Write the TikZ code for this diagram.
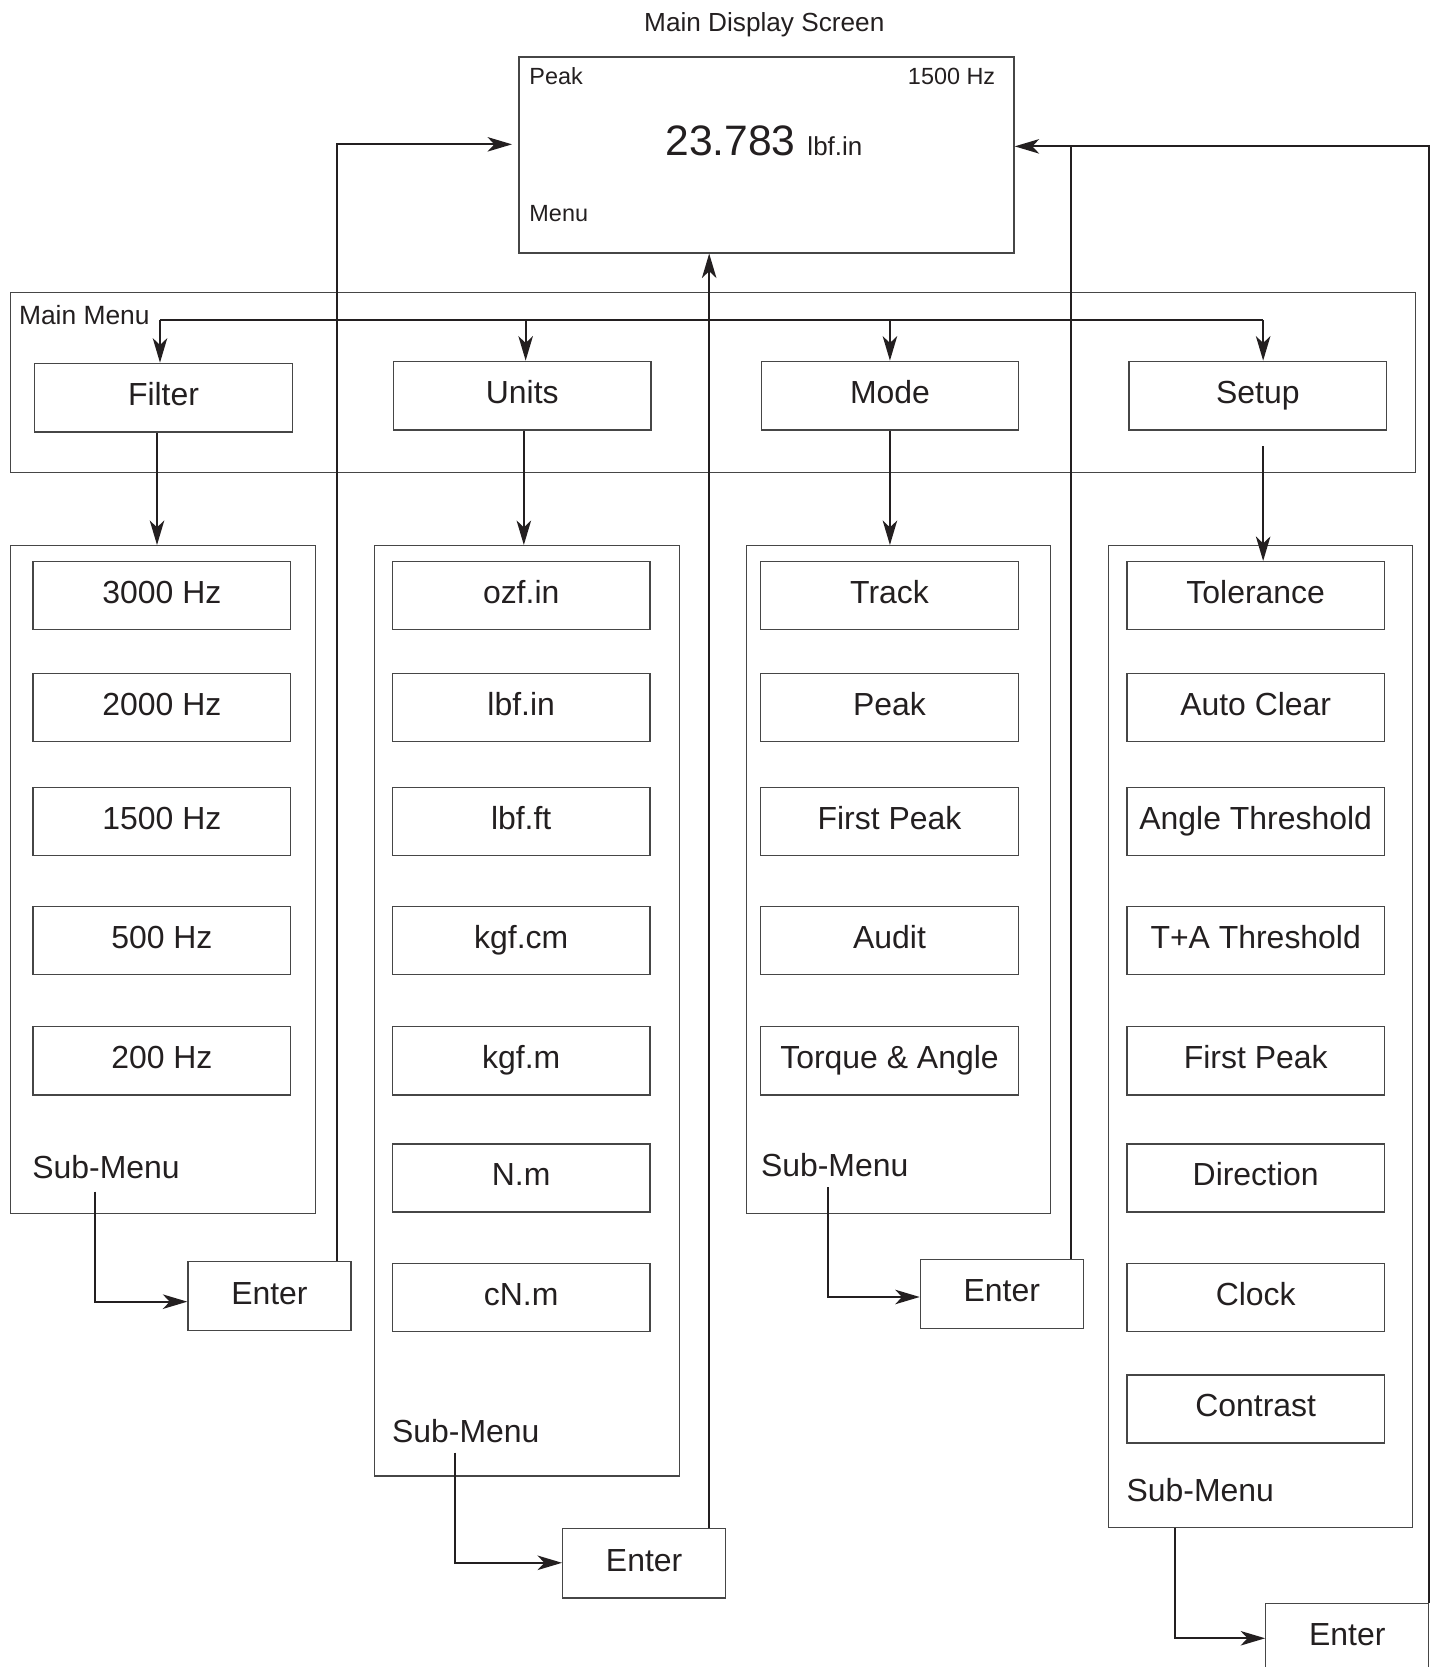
\documentclass[tikz,border=0pt]{standalone}
\usepackage{fontspec}
\setmainfont{Liberation Sans}
\usetikzlibrary{arrows.meta}
\definecolor{ink}{RGB}{35,31,32}
\definecolor{boxc}{RGB}{70,70,70}
\begin{document}
\begin{tikzpicture}[x=0.5pt,y=-0.5pt,
  frame/.style={draw=boxc, line width=0.6pt, inner sep=0pt, anchor=north west},
  item/.style={draw=boxc, line width=0.6pt, minimum width=121pt, minimum height=32pt, inner sep=0pt,
    text height=10.5pt, text depth=3pt, font=\fontsize{15}{18}\selectfont, text=ink, anchor=north west},
  topbox/.style={item, minimum height=32.3pt},
  enterbox/.style={item, minimum width=76.5pt, minimum height=32.5pt},
  lbl/.style={inner sep=0pt, text=ink, anchor=base west, font=\fontsize{15}{18}\selectfont},
  small/.style={inner sep=0pt, text=ink, font=\fontsize{11}{13}\selectfont},
  conn/.style={draw=ink, line width=1pt},
  arr/.style={conn, -{Stealth[length=11.5pt,width=6.8pt,inset=3.2pt]}}
]
\useasboundingbox (0,0) rectangle (1348,1566);

% ---------------- main display ----------------
\node[frame, minimum width=232.5pt, minimum height=92pt] (disp) at (487,53) {};
\node[small, anchor=base, font=\fontsize{12.3}{14}\selectfont] (title) at (718,29.7) {Main Display Screen};
\node[small, anchor=base west] (pk) at (497,79) {Peak};
\node[small, anchor=base east] (hz) at (935.3,79) {1500 Hz};
\node[small, anchor=base west] (mn) at (497,208.5) {Menu};
\node[small, anchor=base west] (val) at (624.7,146.5) {\fontsize{20}{24}\selectfont 23.783 {\fontsize{12.2}{14}\selectfont lbf.in}};

% ---------------- main menu ----------------
\node[frame, minimum width=660pt, minimum height=84.5pt] (mm) at (9,274.5) {};
\node[small, anchor=base west, font=\fontsize{12.4}{14}\selectfont] (mmt) at (17.5,305.3) {Main Menu};
\node[topbox] (filter) at (32,340.7) {Filter};
\node[topbox] (units) at (369,338.8) {Units};
\node[topbox] (mode) at (714.5,338.8) {Mode};
\node[topbox] (setup) at (1060,338.8) {Setup};

% ---------------- sub menus ----------------
\node[frame, minimum width=143.25pt, minimum height=313.65pt] (fsub) at (9,512) {};
\node[frame, minimum width=143.4pt, minimum height=437pt] (usub) at (351,512) {};
\node[frame, minimum width=142.75pt, minimum height=313.75pt] (msub) at (700.5,512) {};
\node[frame, minimum width=143pt, minimum height=461pt] (ssub) at (1040.5,512) {};

% filter items
\node[item] (f1) at (30.5,527) {3000 Hz};
\node[item] (f2) at (30.5,632) {2000 Hz};
\node[item] (f3) at (30.5,739) {1500 Hz};
\node[item] (f4) at (30.5,851) {500 Hz};
\node[item] (f5) at (30.5,964) {200 Hz};
\node[lbl] (fsl) at (30,1107) {Sub-Menu};

% units items
\node[item] (u1) at (368,527) {ozf.in};
\node[item] (u2) at (368,632) {lbf.in};
\node[item] (u3) at (368,739) {lbf.ft};
\node[item] (u4) at (368,851) {kgf.cm};
\node[item] (u5) at (368,964) {kgf.m};
\node[item] (u6) at (368,1074) {N.m};
\node[item] (u7) at (368,1186) {cN.m};
\node[lbl] (usl) at (368,1355) {Sub-Menu};

% mode items
\node[item] (m1) at (714,527) {Track};
\node[item] (m2) at (714,632) {Peak};
\node[item] (m3) at (714,739) {First Peak};
\node[item] (m4) at (714,851) {Audit};
\node[item] (m5) at (714,964) {Torque \& Angle};
\node[lbl] (msl) at (714.5,1105) {Sub-Menu};

% setup items
\node[item] (s1) at (1058,527) {Tolerance};
\node[item] (s2) at (1058,632) {Auto Clear};
\node[item] (s3) at (1058,739) {Angle Threshold};
\node[item] (s4) at (1058,851) {T+A Threshold};
\node[item] (s5) at (1058,964) {First Peak};
\node[item] (s6) at (1058,1074) {Direction};
\node[item] (s7) at (1058,1186) {Clock};
\node[item] (s8) at (1058,1291) {Contrast};
\node[lbl] (ssl) at (1058,1410.7) {Sub-Menu};

% enter boxes
\node[enterbox] (fent) at (176,1184.6) {Enter};
\node[enterbox] (uent) at (528,1435.5) {Enter};
\node[enterbox] (ment) at (864,1182.5) {Enter};
\node[enterbox] (sent) at (1188.5,1505.5) {Enter};

% ---------------- connectors ----------------
% bus
\coordinate (bL) at (150.3,300.6);
\coordinate (bU) at (493.8,300.6);
\coordinate (bM) at (836,300.6);
\coordinate (bR) at (1186.6,300.6);
\draw[conn, line width=1.2pt] (bL) -- (bR);
\draw[arr] (bL) -- (bL |- filter.north);
\draw[arr] (bU) -- (bU |- units.north);
\draw[arr] (bM) -- (bM |- mode.north);
\draw[arr] (bR) -- (bR |- setup.north);

% main menu to sub menus
\coordinate (cF) at (147.5,0);
\coordinate (cU) at (492.1,0);
\coordinate (cM) at (836,0);
\coordinate (cS) at (1186.6,419);
\draw[arr] (cF |- filter.south) -- (cF |- fsub.north);
\draw[arr] (cU |- units.south) -- (cU |- usub.north);
\draw[arr] (cM |- mode.south) -- (cM |- msub.north);
\draw[arr] (cS) -- (cS |- s1.north);

% sub menus to enter
\coordinate (fs) at (89.2,1119.5);
\coordinate (fa) at (89.2,1222.8);
\draw[arr] (fs) -- (fa) -- (fa -| fent.west);
\coordinate (us) at (427.4,1364.5);
\coordinate (ua) at (427.4,1468.1);
\draw[arr] (us) -- (ua) -- (ua -| uent.west);
\coordinate (ms) at (778.2,1115.5);
\coordinate (ma) at (778.2,1218.4);
\draw[arr] (ms) -- (ma) -- (ma -| ment.west);
\coordinate (ss) at (1104,0);
\coordinate (sa) at (1104,1539);
\draw[arr] (ss |- ssub.south) -- (sa) -- (sa -| sent.west);

% enter back to display
\coordinate (fr) at (316.3,135.6);
\draw[arr, shorten >=3pt] (fr |- fent.north) -- (fr) -- (fr -| disp.west);
\coordinate (ur) at (666.2,0);
\draw[arr] (ur |- uent.north) -- (ur |- disp.south);
\coordinate (mr) at (1006,137.5);
\draw[conn] (mr |- ment.north) -- (mr);
\coordinate (sr) at (1342,137.5);
\draw[arr] (sr |- sent.north) -- (sr) -- (sr -| disp.east);
\end{tikzpicture}
\end{document}
